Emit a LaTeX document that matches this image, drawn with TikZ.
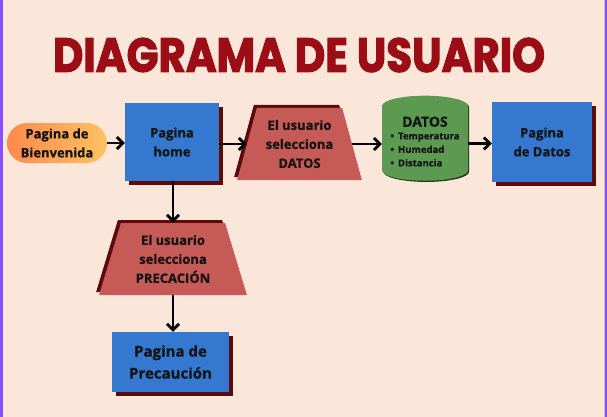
\documentclass[tikz,border=0pt]{standalone}
\usepackage{fontspec}
\setmainfont{Open Sans}[BoldFeatures={FakeBold=0.8}]
\newfontfamily\titlefont[BoldFeatures={FakeBold=2.5}]{Poppins}
\usetikzlibrary{shapes.geometric,arrows.meta,shadows}
\definecolor{bgc}{HTML}{FAE7DA}
\definecolor{titlec}{HTML}{9C0E15}
\definecolor{bluec}{HTML}{3478D0}
\definecolor{shadc}{HTML}{5B0B0B}
\definecolor{redc}{HTML}{C65A57}
\definecolor{greenc}{HTML}{5C9A52}
\definecolor{greend}{HTML}{24381F}
\definecolor{orgL}{HTML}{FF8A4C}
\definecolor{orgR}{HTML}{FFC262}
\definecolor{purp}{HTML}{8A4DFF}
\definecolor{txt}{HTML}{141414}
\begin{document}
\begin{tikzpicture}[x=1pt,y=-1pt,
  txtstyle/.style={text=txt, font=\bfseries\fontsize{13}{19}\selectfont, align=center, inner sep=0pt},
  bluebox/.style={txtstyle, rectangle, fill=bluec,
    drop shadow={shadow xshift=4pt, shadow yshift=-4pt, fill=shadc, opacity=1}},
  trapbox/.style={txtstyle, trapezium, trapezium stretches=true,
    trapezium left angle=72, trapezium right angle=72, fill=redc,
    drop shadow={shadow xshift=-3pt, shadow yshift=3pt, fill=shadc, opacity=1}},
  pill/.style={txtstyle, rectangle, rounded corners=20pt, left color=orgL, right color=orgR},
  cyl/.style={txtstyle, cylinder, shape border rotate=90, aspect=0.3, fill=greenc,
    drop shadow={shadow xshift=1.2pt, shadow yshift=-1.2pt, fill=greend, opacity=1}},
  conn/.style={line width=2.8pt, draw=black, -{Straight Barb[length=6pt,width=12pt]}}
]
\useasboundingbox (0,0) rectangle (607,417);
\fill[bgc] (0,0) rectangle (607,417);
\fill[purp] (0,0) rectangle (2.5,417);
\fill[black!25] (603.5,0) rectangle (604.5,417);
\fill[purp] (604.5,0) rectangle (607,417);

\node[text=titlec, inner sep=0pt] (title) at (299,55)
  {\resizebox{492pt}{34pt}{\titlefont\bfseries DIAGRAMA DE USUARIO}};

\node[pill, minimum width=100pt, minimum height=40pt] (welcome) at (57,143) {Pagina de\\Bienvenida};
\node[bluebox, minimum width=94pt, minimum height=78pt] (home) at (172,142) {Pagina\\home};
\node[trapbox, minimum width=125pt, minimum height=72pt] (trap1) at (299.5,144) {El usuario\\selecciona\\DATOS};
\node[cyl, minimum width=86pt, minimum height=77pt] (datos) at (425,143.5)
  {{\fontsize{14}{16}\selectfont DATOS}\\[2pt]
   {\fontsize{9.5}{13.5}\selectfont\begin{tabular}{@{}l@{}}\textbullet\hspace{4pt}Temperatura\\\textbullet\hspace{4pt}Humedad\\\textbullet\hspace{4pt}Distancia\end{tabular}}};
\node[bluebox, minimum width=100pt, minimum height=80pt] (pdatos) at (542,142) {Pagina\\de Datos};
\node[trapbox, minimum width=148pt, minimum height=72pt] (trap2) at (173,259) {El usuario\\selecciona\\PRECACIÓN};
\node[bluebox, minimum width=117pt, minimum height=60pt, font=\bfseries\fontsize{15}{22}\selectfont] (prec) at (170.5,362) {Pagina de\\Precaución};

\draw[conn] (welcome.east) -- (welcome.east -| home.west);
\draw[conn] (home.east |- trap1.west) -- (trap1.west);
\draw[conn] (trap1.east) -- (trap1.east -| datos.west);
\draw[conn] (datos.east) -- (datos.east -| pdatos.west);
\draw[conn] (home.south -| trap2.north) -- (trap2.north);
\draw[conn] (trap2.south) -- (trap2.south |- prec.north);
\end{tikzpicture}
\end{document}
